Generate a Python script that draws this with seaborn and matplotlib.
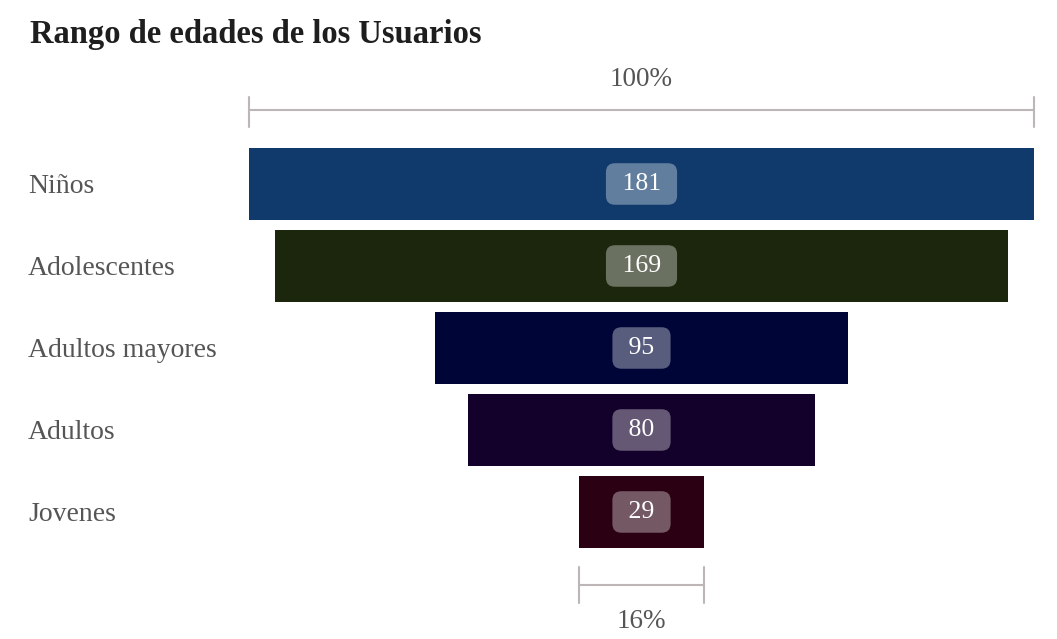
import matplotlib
matplotlib.use("Agg")
import matplotlib.pyplot as plt
import seaborn as sns
import pandas as pd

categories = ["Niños", "Adolescentes", "Adultos mayores", "Adultos", "Jovenes"]
values = [181, 169, 95, 80, 29]
colors = ["#0f3a6b", "#1c260c", "#000538", "#13002b", "#2a0012"]
top_label = "100%"
bottom_label = "16%"
title = "Rango de edades de los Usuarios"

sns.set_theme(style="white")
plt.rcParams["font.family"] = ["Liberation Serif", "DejaVu Serif"]

W, H = 1057, 639
fig = plt.figure(figsize=(W / 100, H / 100), dpi=100)
ax = fig.add_axes([249 / W, 0, 785 / W, 579 / H])

df = pd.DataFrame({"cat": categories, "val": values})
sns.barplot(data=df, x="val", y="cat", hue="cat", palette=colors, orient="h",
            width=0.878, legend=False, ax=ax, saturation=1)

# center bars (funnel)
for patch, v in zip(ax.patches, values):
    patch.set_x(-v / 2)
    patch.set_linewidth(0)

vmax = max(values)
ax.set_xlim(-vmax / 2, vmax / 2)
ax.set_ylim(5.549, -1.512)
ax.axis("off")

label_color = "#555555"
bracket_color = "#bdb6b6"
blend = matplotlib.transforms.blended_transform_factory(fig.transFigure, ax.transData)

for i, (c, v) in enumerate(zip(categories, values)):
    ax.text(0, i, f" {v} ", ha="center", va="center", color="white", fontsize=18.5,
            bbox=dict(boxstyle="round,pad=0.38,rounding_size=0.35", fc=(1, 1, 1, 0.35),
                      ec="none"))
    fig.text(28 / W, i, c, transform=blend, ha="left", va="center_baseline",
             fontsize=20, color=label_color)

# top bracket
ax.plot([-vmax / 2, vmax / 2], [-0.902, -0.902], color=bracket_color, lw=1.5, clip_on=False)
for xx in (-vmax / 2, vmax / 2):
    ax.plot([xx, xx], [-1.061, -0.695], color=bracket_color, lw=1.5, clip_on=False)
ax.text(0, -1.305, top_label, ha="center", va="center_baseline", fontsize=19.5, color=label_color)

# bottom bracket
vmin = values[-1]
ax.plot([-vmin / 2, vmin / 2], [4.89, 4.89], color=bracket_color, lw=1.5, clip_on=False)
for xx in (-vmin / 2, vmin / 2):
    ax.plot([xx, xx], [4.67, 5.11], color=bracket_color, lw=1.5, clip_on=False)
ax.text(0, 5.293, bottom_label, ha="center", va="center_baseline", fontsize=19.5, color=label_color)

fig.text(30 / W, 1 - 31 / H, title, ha="left", va="center_baseline", fontsize=23.5,
         fontweight="bold", color="#1e1e1e")

fig.savefig("out.png", dpi=100)
